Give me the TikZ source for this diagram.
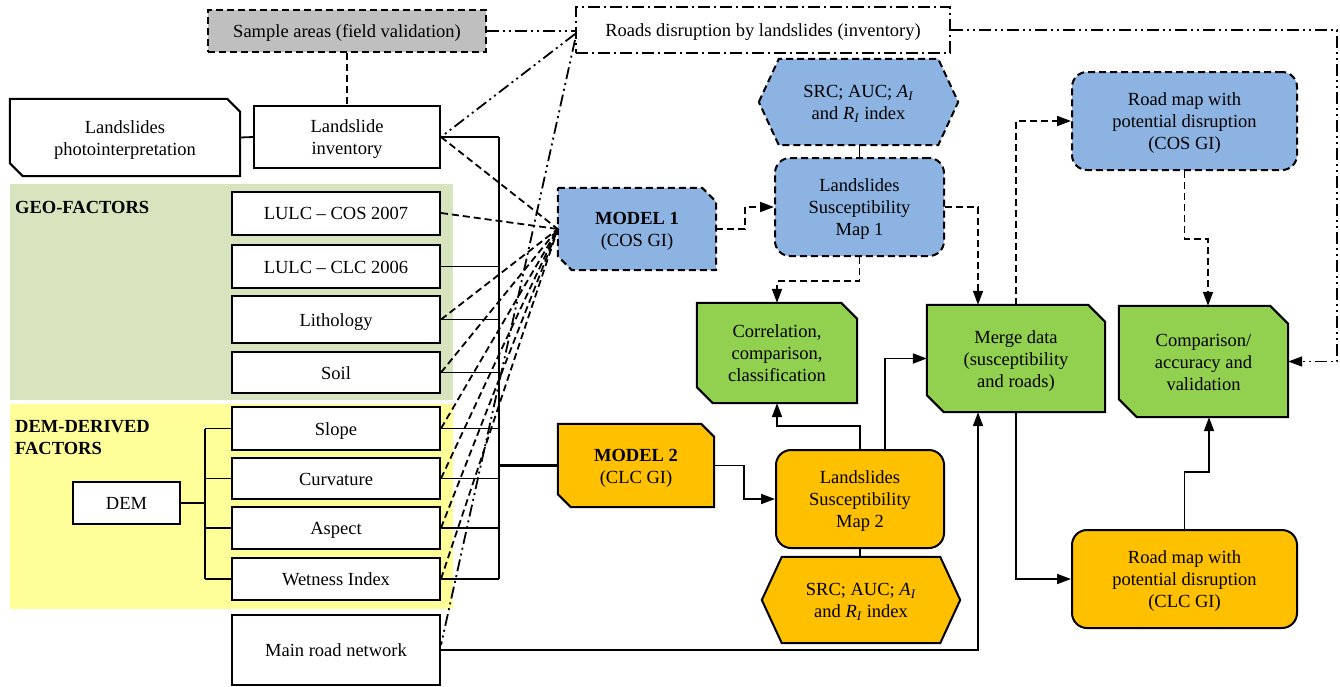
\documentclass[tikz,border=0pt]{standalone}
\usepackage{fontspec}
\setmainfont{Liberation Serif}
\usetikzlibrary{arrows.meta}
\pgfdeclarelayer{background}
\pgfsetlayers{background,main}
\definecolor{geoc}{HTML}{D7E4BD}
\definecolor{demc}{HTML}{FFFF99}
\definecolor{blu}{HTML}{8DB3E2}
\definecolor{grn}{HTML}{92D050}
\definecolor{org}{HTML}{FFC000}
\definecolor{gry}{HTML}{BFBFBF}
\newcommand{\diagfont}{\fontsize{18.5}{22}\selectfont}
\newcommand{\lw}[1]{\raisebox{-2.5pt}[\height][\depth]{\begin{tabular}{@{}c@{}}#1\end{tabular}}}
\tikzset{
  box/.style={draw, line width=2pt, fill=white, inner sep=0pt, align=center, font=\diagfont},
  shp/.style={inner sep=0pt, align=center, font=\diagfont},
  brd/.style={line width=2pt},
  dsh/.style={dash pattern=on 7pt off 4pt},
  dshdot/.style={dash pattern=on 12pt off 4pt on 2pt off 4pt},
  dshdotdot/.style={dash pattern=on 12pt off 4pt on 2pt off 4pt on 2pt off 4pt},
  con/.style={line width=1.8pt},
  arr/.style={con, -{Triangle[length=14pt,width=10pt]}},
  bus/.style={line width=2.8pt},
  rnd/.style={rounded corners=15pt},
  lbl/.style={inner sep=0pt, align=left, font=\diagfont\bfseries}
}
\newcommand{\cutshape}[3]{%
  \begin{pgfonlayer}{background}
  \draw[#2] (#1.north west) -- ([xshift=-#3]#1.north east) -- ([yshift=-#3]#1.north east) -- (#1.south east) -- ([xshift=#3]#1.south west) -- ([yshift=#3]#1.south west) -- cycle;
  \end{pgfonlayer}}
\newcommand{\hexshape}[3]{%
  \begin{pgfonlayer}{background}
  \draw[#2] (#1.west) -- ([xshift=#3]#1.north west) -- ([xshift=-#3]#1.north east) -- (#1.east) -- ([xshift=-#3]#1.south east) -- ([xshift=#3]#1.south west) -- cycle;
  \end{pgfonlayer}}
\begin{document}
\begin{tikzpicture}[x=1pt,y=-1pt]
\useasboundingbox (0,0) rectangle (1340,686);

% panels
\begin{pgfonlayer}{background}
\fill[geoc] (10,184) rectangle (453,400);
\fill[demc] (10,404) rectangle (453,609);
\end{pgfonlayer}
\node[lbl, anchor=west] (geolbl) at (15,207) {GEO-FACTORS};
\node[lbl, anchor=west] (demlbl) at (15,438) {DEM-DERIVED\\FACTORS};

% top row
\node[box, dsh, fill=gry, minimum width=278pt, minimum height=42pt] (sample) at (347,31) {\lw{Sample areas (field validation)}};
\node[box, dshdot, minimum width=374pt, minimum height=46pt] (roads) at (763,30) {\lw{Roads disruption by landslides (inventory)}};

% left column
\node[shp, minimum width=230pt, minimum height=77pt] (photo) at (125,137.5) {\lw{Landslides\\photointerpretation}};
\cutshape{photo}{brd, fill=white}{13pt}
\node[box, minimum width=186pt, minimum height=62pt] (inv) at (347,137) {\lw{Landslide\\inventory}};

\node[box, minimum width=208pt, minimum height=43pt] (cos) at (336,213) {\lw{LULC -- COS 2007}};
\node[box, minimum width=208pt, minimum height=43pt] (clc) at (336,266.5) {\lw{LULC -- CLC 2006}};
\node[box, minimum width=208pt, minimum height=47pt] (lith) at (336,319.5) {\lw{Lithology}};
\node[box, minimum width=208pt, minimum height=41pt] (soil) at (336,372.5) {\lw{Soil}};
\node[box, minimum width=208pt, minimum height=43pt] (slope) at (336,428.5) {\lw{Slope}};
\node[box, minimum width=208pt, minimum height=41pt] (curv) at (336,478.5) {\lw{Curvature}};
\node[box, minimum width=208pt, minimum height=42pt] (asp) at (336,528) {\lw{Aspect}};
\node[box, minimum width=208pt, minimum height=42pt] (wet) at (336,579) {\lw{Wetness Index}};
\node[box, minimum width=208pt, minimum height=70pt] (main) at (336,650) {\lw{Main road network}};
\node[box, minimum width=107pt, minimum height=42pt] (dem) at (126.5,503) {\lw{DEM}};

% models and maps
\node[shp, minimum width=158pt, minimum height=82pt] (m1) at (637,229) {\lw{\textbf{MODEL 1}\\(COS GI)}};
\cutshape{m1}{brd, dsh, fill=blu}{14pt}
\node[shp, minimum width=156pt, minimum height=83pt] (m2) at (636,465.5) {\lw{\textbf{MODEL 2}\\(CLC GI)}};
\cutshape{m2}{brd, fill=org}{13pt}

\node[shp, minimum width=199pt, minimum height=86pt] (src1) at (858.5,102) {\lw{SRC; AUC; \textit{A}\textsubscript{\textit{I}}\\and \textit{R}\textsubscript{\textit{I}} index}};
\hexshape{src1}{brd, dsh, fill=blu}{20pt}
\node[box, dsh, rnd, fill=blu, minimum width=169pt, minimum height=98pt] (map1) at (859.5,207) {\lw{Landslides\\Susceptibility\\Map 1}};

\node[box, rnd, fill=org, minimum width=168pt, minimum height=98pt] (map2) at (860,499) {\lw{Landslides\\Susceptibility\\Map 2}};
\node[shp, minimum width=198pt, minimum height=86pt] (src2) at (861,600) {\lw{SRC; AUC; \textit{A}\textsubscript{\textit{I}}\\and \textit{R}\textsubscript{\textit{I}} index}};
\hexshape{src2}{brd, fill=org}{20pt}

\node[shp, minimum width=160pt, minimum height=100pt] (corr) at (777,353) {\lw{Correlation,\\comparison,\\classification}};
\cutshape{corr}{brd, fill=grn}{16pt}
\node[shp, minimum width=178pt, minimum height=107pt] (merge) at (1016,358.5) {\lw{Merge data\\(susceptibility\\and roads)}};
\cutshape{merge}{brd, fill=grn}{17pt}
\node[shp, minimum width=169pt, minimum height=111pt] (comp) at (1203.5,361.5) {\lw{Comparison/\\accuracy and\\validation}};
\cutshape{comp}{brd, fill=grn}{18pt}

\node[box, dsh, rnd, fill=blu, minimum width=225pt, minimum height=98pt] (rmcos) at (1184.5,121) {\lw{Road map with\\potential disruption\\(COS GI)}};
\node[box, rnd, fill=org, minimum width=225pt, minimum height=98pt] (rmclc) at (1184.5,579) {\lw{Road map with\\potential disruption\\(CLC GI)}};

% top connectors
\draw[con, dshdotdot] (sample.east) -- (sample.east -| roads.west);
\draw[con, dsh] (sample.south) -- (inv.north);
\draw[con] (photo.east) -- (inv.west);
\draw[con, dshdotdot] ([yshift=-4pt]roads.west) -- (inv.east);
\draw[con, dshdotdot] ([yshift=-10pt]roads.west) -- ([yshift=5pt]main.east);
\draw[arr, dshdotdot] (roads.east) -- ++(386,0) |- (comp.east);

% DEM tree
\coordinate (dj) at (205,503);
\draw[con] (dem.east) -- (dj);
\draw[con] (dj |- slope.west) -- (dj |- wet.west);
\foreach \n in {slope,curv,asp,wet} \draw[con] (dj |- \n.west) -- (\n.west);

% bus to model 2
\coordinate (bustop) at (499,137);
\coordinate (busbot) at (499,579);
\draw[bus] (bustop) -- (busbot);
\foreach \n in {inv,clc,lith,soil,slope,curv,asp,wet} \draw[con] (\n.east) -- (\n.east -| bustop);
\draw[bus] (m2.west -| bustop) -- (m2.west);

% dashed inputs to model 1
\foreach \n in {inv,cos,lith,soil,slope,curv,asp,wet} \draw[con, dsh] (\n.east) -- (m1.west);

% model 1 branch
\draw[arr, dsh] (m1.east) -- ++(29,0) |- (map1.west);
\draw[con] (map1.north) -- (map1.north |- src1.south);
\draw[arr, dsh] (map1.south) -- ++(0,24) -| (corr.north);
\draw[arr, dsh] (map1.east) -| ([xshift=-38pt]merge.north);
\draw[arr, dsh] (merge.north) |- (rmcos.west);
\draw[arr, dsh] (rmcos.south) -- ++(0,68) -| ([xshift=4.5pt]comp.north);

% model 2 branch
\draw[arr] (m2.east) -- ++(30,0) |- (map2.west);
\draw[con] (map2.south) -- (map2.south |- src2.north);
\draw[arr] (map2.north) -- ++(0,-23) -| (corr.south);
\draw[arr] ([xshift=25pt]map2.north) |- (merge.west);
\draw[arr] (main.east) -| ([xshift=-38pt]merge.south);
\draw[arr] (merge.south) |- (rmclc.west);
\draw[arr] (rmclc.north) -- ++(0,-57) -| ([xshift=5.5pt]comp.south);
\end{tikzpicture}
\end{document}
